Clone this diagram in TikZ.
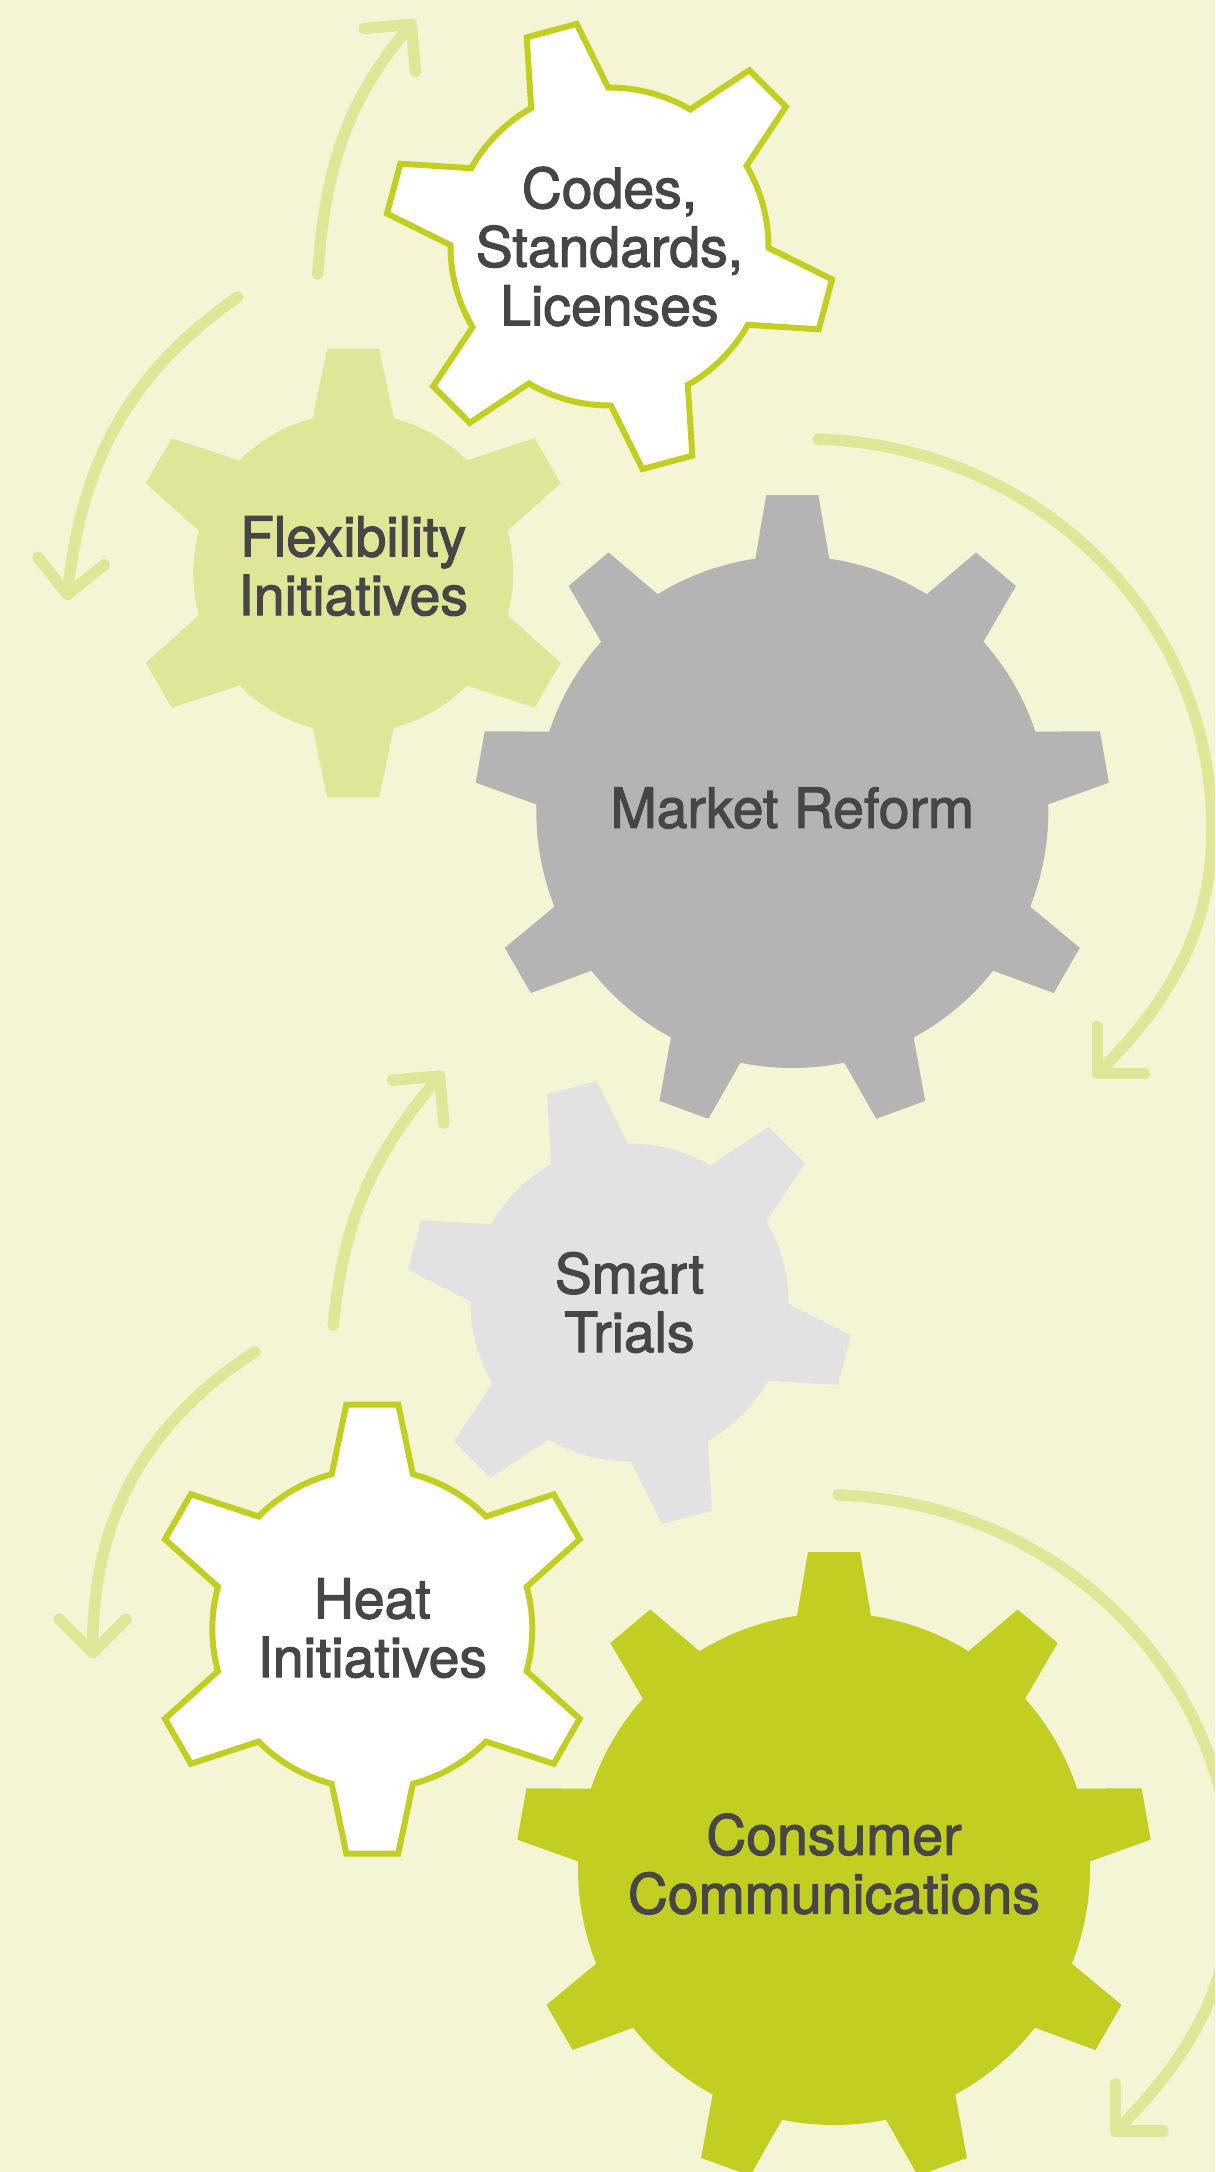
\documentclass[tikz,border=0pt]{standalone}
\usepackage{fontspec}
\setmainfont{TeX Gyre Heros}[BoldFont={*},BoldFeatures={FakeBold=2}]
\usetikzlibrary{arrows.meta}
\definecolor{bg_cream}{RGB}{243,245,212}
\definecolor{cog_lime}{RGB}{194,207,34}
\definecolor{cog_pale}{RGB}{224,230,151}
\definecolor{cog_grey}{RGB}{180,180,180}
\definecolor{cog_light}{RGB}{226,226,226}
\definecolor{ink}{RGB}{70,70,70}
\tikzstyle{cogwhite}=[fill=white,draw=cog_lime,line width=3.4pt]
\tikzstyle{cogpale}=[fill=cog_pale]
\tikzstyle{coggrey}=[fill=cog_grey]
\tikzstyle{coglight}=[fill=cog_light]
\tikzstyle{coglime}=[fill=cog_lime]
\tikzstyle{lbl}=[text=ink,align=center,font=\fontsize{31.5}{33.4}\selectfont\bfseries]
\tikzstyle{cyc}=[draw=cog_pale,line width=6.5pt,line cap=round,
  -{Straight Barb[length=19pt,width=38pt,round]}]
% #1 centre, #2 teeth, #3 first tooth angle, #4 body radius, #5 tip radius,
% #6 half angle at the root, #7 half angle at the tip, #8 style
\newcommand{\cog}[8]{%
  \path[#8,shift={(#1)}] ({#3-#6}:#4)
    \foreach \k in {1,...,#2}{
      -- ({#3+(\k-1)*360/#2-#7}:#5) -- ({#3+(\k-1)*360/#2+#7}:#5)
      -- ({#3+(\k-1)*360/#2+#6}:#4)
      arc[start angle={#3+(\k-1)*360/#2+#6},delta angle={360/#2-2*#6},radius=#4]
    } -- cycle;
}

\begin{document}
\begin{tikzpicture}[x=0.02cm,y=0.02cm]
    \useasboundingbox (0,0) rectangle (1215,-2172);
    \fill[bg_cream] (0,0) rectangle (1215,-2172);
    \clip (0,0) rectangle (1215,-2172);

    % upper group
    \cog{609.5,-246.5}{6}{105}{159}{225}{14.5}{6.6}{cogwhite}
    \cog{353.2,-573}{6}{90}{160}{226}{14.7}{6.6}{cogpale}
    \cog{792.3,-812}{9}{90}{256}{318}{8.3}{4.7}{coggrey}
    \node[lbl] (codes) at (609.5,-246.5) {Codes,\\Standards,\\Licenses};
    \node[lbl] (flex) at (353.2,-566) {Flexibility\\Initiatives};
    \node[lbl] (market) at (792.3,-808) {Market Reform};

    % lower group
    \cog{629.5,-1302.5}{6}{105}{159}{224}{14.5}{6.6}{coglight}
    \cog{372.3,-1629}{6}{90}{160}{226}{14.7}{6.6}{cogwhite}
    \cog{834,-1869}{9}{90}{256}{318}{8.3}{4.7}{coglime}
    \node[lbl] (smart) at (629.5,-1302.5) {Smart\\Trials};
    \node[lbl] (heat) at (372.3,-1628) {Heat\\Initiatives};
    \node[lbl] (consumer) at (834,-1864) {Consumer\\Communications};

    % turning arrows
    \coordinate (s1) at (317.7,-274);   \coordinate (t1) at (415,-20);
    \coordinate (s2) at (237.3,-297.3); \coordinate (t2) at (66.7,-600);
    \coordinate (s3) at (818.3,-439);   \coordinate (m3) at (1212,-830);
    \coordinate (t3) at (1093.3,-1077.7);
    \coordinate (s4) at (333.3,-1325);  \coordinate (t4) at (443.3,-1071.7);
    \coordinate (s5) at (255,-1351.7);  \coordinate (t5) at (92.7,-1658.3);
    \coordinate (s6) at (838.3,-1495);  \coordinate (m6) at (1232,-1886.5);
    \coordinate (t6) at (1111.7,-2135);

    \draw[cyc] (s1) to[out=86,in=230] (t1);
    \draw[cyc] (s2) to[out=215,in=83.5] (t2);
    \draw[cyc] (s3) to[out=-2,in=90] (m3)
        to[out=-90,in=45,looseness=0.95] (t3);
    \draw[cyc] (s4) to[out=84.5,in=230] (t4);
    \draw[cyc] (s5) to[out=213,in=90] (t5);
    \draw[cyc] (s6) to[out=-2,in=90] (m6)
        to[out=-90,in=45,looseness=0.95] (t6);
\end{tikzpicture}
\end{document}
